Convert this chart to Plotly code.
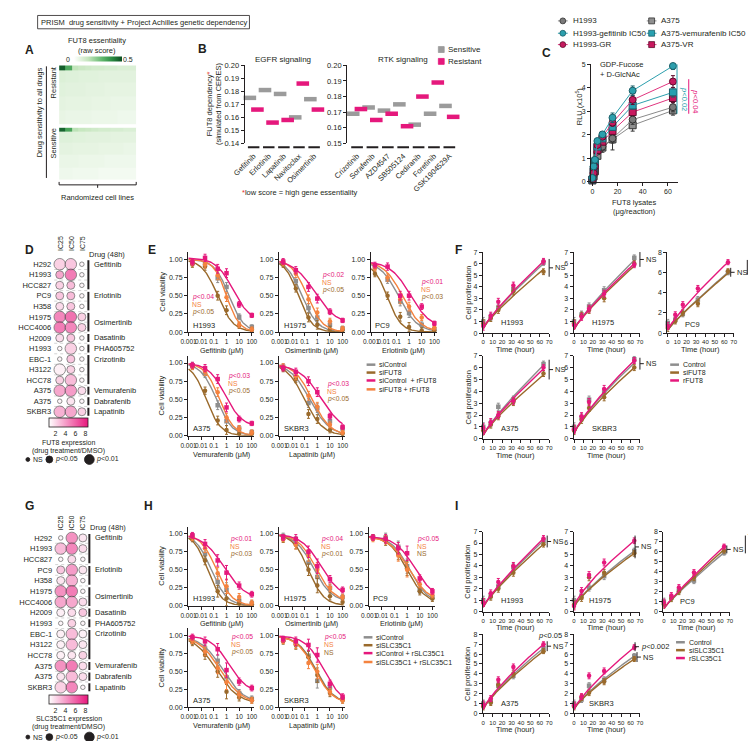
import numpy as np
import plotly.graph_objects as go

W, H = 756, 741
FONT = "Liberation Sans, Arial, sans-serif"
INK = "#231f20"
GRAY, BROWN, PINK, ORANGE = "#8e8e8e", "#9a6a2c", "#e5187c", "#f4833f"
TEAL, CRIMSON, RED = "#2c9fad", "#c51a5e", "#e8312f"

# ---------------- A: FUT8 essentiality (rows x randomized cell lines) ----------------
heat_resistant = [
    [0.47, 0.33, 0.15, 0.13, 0.12, 0.11, 0.11, 0.10, 0.10, 0.09, 0.09, 0.09],
    [0.085, 0.08, 0.08, 0.075, 0.075, 0.075, 0.07, 0.07, 0.07, 0.07, 0.07, 0.07],
    [0.075, 0.07, 0.07, 0.07, 0.065, 0.065, 0.065, 0.06, 0.06, 0.06, 0.06, 0.06],
    [0.065, 0.06, 0.06, 0.06, 0.06, 0.055, 0.055, 0.055, 0.05, 0.05, 0.05, 0.05],
    [0.055, 0.05, 0.05, 0.05, 0.05, 0.045, 0.045, 0.045, 0.045, 0.04, 0.04, 0.04],
]
heat_sensitive = [
    [0.46, 0.34, 0.16, 0.14, 0.13, 0.12, 0.11, 0.11, 0.10, 0.10, 0.09, 0.09],
    [0.08, 0.08, 0.075, 0.075, 0.07, 0.07, 0.07, 0.07, 0.065, 0.065, 0.065, 0.065],
    [0.065, 0.065, 0.06, 0.06, 0.06, 0.06, 0.055, 0.055, 0.055, 0.055, 0.05, 0.05],
    [0.05, 0.05, 0.05, 0.045, 0.045, 0.045, 0.045, 0.04, 0.04, 0.04, 0.04, 0.04],
    [0.04, 0.04, 0.035, 0.035, 0.035, 0.035, 0.03, 0.03, 0.03, 0.03, 0.03, 0.03],
]

# ---------------- B: FUT8 dependency ----------------
egfr_drugs = ["Gefitinib", "Erlotinib", "Lapatinib", "Navitoclax", "Osimertinib"]
egfr_sensitive = [0.175, 0.181, 0.178, 0.160, 0.174]
egfr_resistant = [0.166, 0.156, 0.158, 0.186, 0.166]
rtk_drugs = ["Crizotinib", "Sorafenib", "AZD4547", "SB505124", "Cediranib", "Foretinib", "GSK1904529A"]
rtk_sensitive = [0.169, 0.173, 0.171, 0.175, 0.162, 0.169, 0.174]
rtk_resistant = [0.172, 0.165, 0.169, 0.161, 0.180, 0.189, 0.167]

# ---------------- C: FUT8 activity ----------------
c_lysate = [0, 1, 2, 4, 8, 16, 32, 64]
c_names = ["H1993", "H1993-gefitinib IC50", "H1993-GR", "A375", "A375-vemurafenib IC50", "A375-VR"]
c_rlu = [
    [0.07, 0.28, 0.52, 1.29, 1.50, 1.85, 2.65, 3.18],
    [0.17, 0.66, 0.94, 1.74, 2.02, 2.73, 3.88, 4.93],
    [0.10, 0.38, 0.66, 1.57, 1.92, 2.52, 3.49, 4.27],
    [0.06, 0.24, 0.45, 1.11, 1.46, 1.81, 2.41, 3.04],
    [0.10, 0.52, 0.87, 1.50, 1.85, 2.34, 3.25, 3.81],
    [0.10, 0.45, 0.76, 1.36, 1.71, 2.17, 2.97, 3.57],
]
c_sd = [
    [0.03, 0.05, 0.08, 0.10, 0.15, 0.20, 0.20, 0.20],
    [0.03, 0.05, 0.08, 0.10, 0.10, 0.20, 0.20, 0.15],
    [0.03, 0.05, 0.08, 0.10, 0.10, 0.15, 0.20, 0.25],
    [0.03, 0.05, 0.08, 0.10, 0.20, 0.45, 0.25, 0.20],
    [0.03, 0.05, 0.08, 0.10, 0.10, 0.15, 0.15, 0.20],
    [0.03, 0.05, 0.08, 0.10, 0.10, 0.15, 0.15, 0.20],
]

# ---------------- D / G: expression bubbles ----------------
bubble_lines = ["H292", "H1993", "HCC827", "PC9", "H358", "H1975", "HCC4006", "H2009",
                "H1993", "EBC-1", "H3122", "HCC78", "A375", "A375", "SKBR3"]
bubble_drugs = ["Gefitinib", "Erlotinib", "Osimertinib", "Dasatinib", "PHA605752",
                "Crizotinib", "Vemurafenib", "Dabrafenib", "Lapatinib"]
bubble_drug_rows = [(0, 2), (3, 4), (5, 6), (7, 7), (8, 8), (9, 11), (12, 12), (13, 13), (14, 14)]
# columns IC25, IC50, IC75 ; significance 0 = NS, 1 = p<0.05, 2 = p<0.01
fut8_fold = [[3.0, 3.5, 1.2], [5.0, 7.0, 1.2], [3.0, 4.0, 1.2], [3.5, 4.0, 1.2], [2.5, 3.5, 1.2],
             [6.5, 7.5, 3.0], [7.0, 6.5, 3.0], [2.5, 3.5, 1.2], [1.2, 3.0, 1.2], [1.2, 3.5, 1.2],
             [1.5, 3.0, 1.2], [3.0, 4.0, 1.2], [5.0, 5.5, 2.5], [1.2, 2.0, 1.2], [4.5, 5.0, 3.0]]
fut8_sig = [[2, 2, 0], [1, 2, 0], [1, 1, 0], [1, 1, 0], [1, 1, 0], [2, 2, 1], [2, 2, 1], [1, 1, 0],
            [0, 2, 0], [0, 1, 0], [2, 1, 0], [1, 2, 0], [2, 2, 1], [0, 1, 0], [2, 2, 1]]
slc_fold = [[1.2, 6.0, 2.0], [4.0, 6.5, 2.5], [1.2, 2.5, 1.2], [3.5, 5.5, 2.0], [2.0, 4.5, 1.2],
            [6.0, 7.0, 1.2], [5.0, 5.0, 2.5], [1.5, 2.5, 3.5], [1.2, 3.0, 1.2], [1.5, 4.0, 1.5],
            [1.5, 4.0, 2.0], [1.5, 2.0, 3.0], [6.0, 7.0, 2.5], [2.0, 4.0, 2.5], [3.0, 6.5, 1.2]]
slc_sig = [[0, 2, 1], [2, 2, 1], [0, 1, 0], [1, 2, 1], [1, 2, 0], [2, 2, 0], [2, 2, 1], [1, 1, 1],
           [0, 1, 0], [1, 2, 1], [1, 2, 1], [1, 1, 1], [2, 2, 1], [1, 2, 1], [2, 2, 0]]

# ---------------- E / H: viability (siControl, siX, siControl + rX, siX + rX) ----------------
dose_um = [0.002, 0.02, 0.2, 1, 10, 100]
# fit = [top, bottom, logIC50, hill]
e_h1993 = [[0.96, 0.94, 0.74, 0.62, 0.21, 0.07], [0.93, 0.90, 0.50, 0.30, 0.09, 0.03],
           [0.96, 1.02, 0.87, 0.81, 0.38, 0.23], [0.95, 0.93, 0.78, 0.48, 0.10, 0.04]]
e_h1993_fit = [[1.0, 0.0, 0.2, 0.75], [1.0, 0.0, -0.7, 0.7], [1.02, 0.15, 0.5, 0.65], [1.0, 0.0, 0.0, 0.85]]
e_h1975 = [[0.95, 0.70, 0.33, 0.20, 0.10, 0.05], [0.93, 0.60, 0.20, 0.10, 0.04, 0.03],
           [0.97, 0.85, 0.62, 0.46, 0.28, 0.16], [0.95, 0.80, 0.45, 0.27, 0.15, 0.05]]
e_h1975_fit = [[1.0, 0.0, -1.2, 0.7], [1.0, 0.0, -1.5, 0.8], [1.0, 0.1, -0.2, 0.5], [1.0, 0.0, -0.8, 0.7]]
e_pc9 = [[0.90, 0.72, 0.42, 0.26, 0.10, 0.04], [0.80, 0.50, 0.21, 0.07, 0.02, 0.02],
         [0.92, 0.90, 0.50, 0.50, 0.35, 0.12], [0.88, 0.75, 0.45, 0.35, 0.20, 0.06]]
e_pc9_fit = [[0.97, 0.0, -0.8, 0.6], [0.95, 0.0, -1.7, 0.8], [0.97, 0.05, 0.1, 0.55], [0.97, 0.0, -0.5, 0.6]]
e_a375 = [[0.97, 0.85, 0.42, 0.20, 0.10, 0.05], [0.95, 0.62, 0.21, 0.08, 0.03, 0.03],
          [0.97, 0.93, 0.78, 0.39, 0.23, 0.17], [0.95, 0.88, 0.60, 0.25, 0.10, 0.05]]
e_a375_fit = [[1.0, 0.0, -0.8, 0.7], [1.0, 0.0, -1.6, 0.75], [1.0, 0.12, -0.1, 0.65], [1.0, 0.0, -0.55, 0.75]]
e_skbr3 = [[0.95, 0.80, 0.45, 0.38, 0.20, 0.10], [0.92, 0.78, 0.30, 0.23, 0.08, 0.03],
           [0.93, 0.88, 0.75, 0.60, 0.27, 0.12], [0.95, 0.82, 0.55, 0.40, 0.15, 0.05]]
e_skbr3_fit = [[1.0, 0.0, -0.6, 0.55], [1.0, 0.0, -1.0, 0.6], [0.98, 0.05, 0.3, 0.5], [1.0, 0.0, -0.4, 0.6]]
e_sd = [0.04, 0.05, 0.06, 0.06, 0.04, 0.03]

h_h1993 = [[0.97, 0.72, 0.33, 0.22, 0.07, 0.03], [0.93, 0.63, 0.20, 0.10, 0.03, 0.02],
           [0.98, 0.86, 0.63, 0.46, 0.28, 0.16], [0.95, 0.80, 0.45, 0.27, 0.12, 0.04]]
h_h1993_fit = [[1.0, 0.0, -1.2, 0.7], [1.0, 0.0, -1.5, 0.8], [1.0, 0.08, -0.2, 0.5], [1.0, 0.0, -0.8, 0.7]]
h_h1975 = [[0.97, 0.90, 0.60, 0.40, 0.25, 0.12], [0.92, 0.85, 0.50, 0.28, 0.13, 0.05],
           [0.95, 0.93, 0.75, 0.55, 0.37, 0.22], [0.93, 0.85, 0.70, 0.50, 0.25, 0.12]]
h_h1975_fit = [[1.0, 0.05, -0.3, 0.6], [1.0, 0.0, -0.7, 0.7], [1.0, 0.1, 0.3, 0.55], [1.0, 0.05, -0.1, 0.6]]
h_pc9 = [[0.95, 0.95, 0.82, 0.55, 0.22, 0.12], [0.95, 0.90, 0.72, 0.52, 0.20, 0.10],
         [0.95, 0.93, 0.80, 0.73, 0.38, 0.20], [0.93, 0.92, 0.70, 0.50, 0.30, 0.15]]
h_pc9_fit = [[0.97, 0.03, 0.2, 0.6], [0.97, 0.03, 0.0, 0.6], [0.97, 0.08, 0.6, 0.55], [0.97, 0.05, 0.15, 0.55]]
h_a375 = [[0.95, 0.82, 0.65, 0.42, 0.20, 0.12], [0.90, 0.73, 0.50, 0.22, 0.14, 0.10],
          [0.98, 0.92, 0.81, 0.52, 0.36, 0.27], [0.93, 0.78, 0.55, 0.35, 0.18, 0.10]]
h_a375_fit = [[1.0, 0.05, -0.3, 0.5], [1.0, 0.05, -0.8, 0.5], [1.0, 0.2, 0.2, 0.6], [1.0, 0.05, -0.5, 0.5]]
h_skbr3 = [[0.95, 0.90, 0.72, 0.37, 0.28, 0.12], [0.92, 0.87, 0.70, 0.45, 0.20, 0.10],
           [0.95, 0.92, 0.87, 0.73, 0.33, 0.15], [0.93, 0.88, 0.62, 0.50, 0.22, 0.10]]
h_skbr3_fit = [[1.0, 0.05, -0.1, 0.6], [1.0, 0.05, -0.15, 0.6], [1.0, 0.05, 0.5, 0.6], [1.0, 0.05, -0.2, 0.6]]
h_sd = [0.04, 0.06, 0.08, 0.10, 0.05, 0.04]

# ---------------- F / I: proliferation (Control, siX, rX) ----------------
time_h = [0, 8, 16, 32, 64]
# fit = [start, value at 64 h, curvature]
f_h1993 = [[1.0, 1.4, 2.2, 3.8, 6.1], [0.8, 1.3, 2.0, 3.6, 5.3], [0.6, 1.5, 2.7, 4.1, 6.2]]
f_h1993_fit = [[0.4, 6.0, 0.85], [0.4, 5.5, 0.85], [0.4, 6.2, 0.85]]
f_h1975 = [[1.0, 1.6, 2.3, 3.7, 6.5], [0.8, 1.5, 2.0, 3.0, 6.0], [0.7, 1.4, 2.1, 3.4, 5.9]]
f_h1975_fit = [[0.3, 6.3, 0.85], [0.3, 5.8, 0.85], [0.3, 6.0, 0.85]]
f_pc9 = [[1.0, 1.3, 1.9, 3.3, 6.0], [0.5, 1.2, 2.0, 2.9, 6.1], [0.7, 1.8, 2.8, 4.4, 7.0]]
f_pc9_fit = [[0.3, 6.0, 0.9], [0.3, 5.9, 0.9], [0.3, 7.0, 0.85]]
f_a375 = [[1.0, 1.3, 2.7, 3.3, 6.3], [0.7, 1.2, 1.9, 3.1, 5.5], [0.9, 1.4, 2.0, 3.2, 6.0]]
f_a375_fit = [[0.3, 6.2, 0.85], [0.3, 5.4, 0.85], [0.3, 5.9, 0.85]]
f_skbr3 = [[1.0, 1.8, 3.3, 3.9, 6.7], [0.7, 1.6, 2.6, 3.5, 6.0], [0.8, 1.9, 3.1, 4.2, 6.6]]
f_skbr3_fit = [[0.4, 6.4, 0.8], [0.4, 6.0, 0.8], [0.4, 6.6, 0.8]]

i_h1993 = [[1.0, 1.4, 2.2, 3.9, 6.2], [0.8, 1.3, 2.0, 3.4, 5.9], [0.8, 1.6, 2.6, 4.0, 6.4]]
i_h1993_fit = [[0.4, 6.2, 0.85], [0.4, 5.9, 0.85], [0.4, 6.4, 0.85]]
i_h1975 = [[1.0, 1.4, 2.1, 3.1, 5.3], [0.6, 1.2, 3.0, 3.4, 5.1], [0.5, 1.8, 3.2, 4.3, 6.2]]
i_h1975_fit = [[0.4, 5.3, 0.8], [0.4, 5.1, 0.8], [0.4, 6.2, 0.75]]
i_pc9 = [[1.0, 1.4, 2.1, 3.1, 5.9], [0.7, 1.3, 2.0, 3.4, 6.1], [0.9, 1.6, 2.4, 3.9, 6.5]]
i_pc9_fit = [[0.3, 5.9, 0.9], [0.3, 6.2, 0.9], [0.3, 6.5, 0.9]]
i_a375 = [[1.0, 1.2, 2.8, 3.8, 6.6], [0.7, 1.1, 2.9, 4.0, 6.3], [0.9, 1.5, 3.4, 4.7, 7.0]]
i_a375_fit = [[0.4, 6.6, 0.8], [0.4, 6.3, 0.8], [0.4, 7.0, 0.8]]
i_skbr3 = [[1.0, 1.4, 2.8, 3.4, 5.8], [0.7, 1.6, 2.1, 3.2, 5.5], [0.8, 1.7, 3.8, 4.3, 6.7]]
i_skbr3_fit = [[0.4, 5.8, 0.8], [0.4, 5.5, 0.8], [0.4, 6.7, 0.8]]
prolif_sd = [0.35, 0.3, 0.3, 0.3, 0.25]

# ---------------- helpers ----------------
fig = go.Figure()
axes, annos, shapes = {}, [], []
AXIS = dict(showgrid=False, zeroline=False, showline=True, linecolor=INK, linewidth=1,
            ticks="outside", ticklen=3, tickwidth=1, tickcolor=INK, tickangle=0,
            tickfont=dict(family=FONT, size=7, color=INK), fixedrange=True)
HIDE = dict(showline=False, ticks="", showticklabels=False)


def new_axes(x0, x1, y0, y1, xopt=None, yopt=None):
    n = len(axes) // 2 + 1
    s = "" if n == 1 else str(n)
    axes["xaxis" + s] = {**AXIS, "domain": [x0 / W, x1 / W], "anchor": "y" + s, **(xopt or {})}
    axes["yaxis" + s] = {**AXIS, "domain": [1 - y1 / H, 1 - y0 / H], "anchor": "x" + s, **(yopt or {})}
    return "x" + s, "y" + s


def label(x, y, s, size=7.5, color=INK, angle=0, xanchor="left", yanchor="middle"):
    annos.append(dict(x=x / W, y=1 - y / H, xref="paper", yref="paper", text=s, showarrow=False,
                      textangle=angle, xanchor=xanchor, yanchor=yanchor, borderpad=0,
                      font=dict(family=FONT, size=size, color=color)))


def seg(x0, y0, x1, y1, color=INK, width=1, dash="solid"):
    shapes.append(dict(type="line", xref="paper", yref="paper", x0=x0 / W, y0=1 - y0 / H,
                       x1=x1 / W, y1=1 - y1 / H, line=dict(color=color, width=width, dash=dash)))


def blob(cx, cy, d, fill, edge=INK, kind="circle"):
    shapes.append(dict(type=kind, xref="paper", yref="paper", x0=(cx - d / 2) / W, x1=(cx + d / 2) / W,
                       y0=1 - (cy + d / 2) / H, y1=1 - (cy - d / 2) / H, fillcolor=fill,
                       line=dict(color=edge, width=0.8)))


def letter(x, y, s):
    label(x, y, "<b>%s</b>" % s, size=12, xanchor="center")


def line_legend(x, ys, names, colors, size=7):
    for yy, nm, col in zip(ys, names, colors):
        seg(x, yy, x + 9, yy, col, 2.5)
        label(x + 12, yy, nm, size=size)


def bracket(x, y0, y1, text=None, tick=True):
    seg(x, y0, x, y1)
    if tick:
        seg(x, (y0 + y1) / 2, x + 4, (y0 + y1) / 2)
    if text:
        label(x + 5, (y0 + y1) / 2, text, size=7.5)


# ---------------- title ----------------
shapes.append(dict(type="rect", xref="paper", yref="paper", x0=16 / W, x1=233 / W, y0=1 - 17 / H,
                   y1=1 - 3.5 / H, line=dict(color=INK, width=0.8)))
label(124.5, 10.5, "PRISM  drug sensitivity + Project Achilles genetic dependency", size=7.5, xanchor="center")

# ---------------- A ----------------
GREENS = [[0, "#ffffff"], [0.12, "#e6f4e2"], [0.3, "#c3e5bc"], [0.6, "#5db56a"], [0.8, "#2a8a42"], [1, "#0b4d22"]]
row_edges = [0, 1.6, 6, 11, 16, 21]
for z, (y0, y1), scale in ((heat_resistant, (54, 114), True), (heat_sensitive, (117, 170), False)):
    xa, ya = new_axes(38, 117, y0, y1, dict(range=[-0.5, 11.5], **HIDE), dict(range=[21, 0], **HIDE))
    fig.add_trace(go.Heatmap(z=z, y=row_edges, xaxis=xa, yaxis=ya, colorscale=GREENS, zmin=0, zmax=0.5,
                             showscale=scale, hoverinfo="skip",
                             colorbar=dict(orientation="h", x=77.5 / W, xanchor="center", y=1 - 48 / H,
                                           yanchor="middle", len=49 / W, thickness=5, outlinewidth=0,
                                           showticklabels=False, ticks="", xpad=0, ypad=0)))
letter(8, 38, "A")
label(77, 29, "FUT8 essentiality", xanchor="center")
label(77, 38.5, "(raw score)", xanchor="center")
label(47, 48, "0", size=7, xanchor="center")
label(109, 48, "0.5", size=7, xanchor="center")
label(18, 102, "Drug sensitivity to all drugs", angle=-90, xanchor="center")
label(32, 71, "Resistant", angle=-90, xanchor="center")
label(32, 133, "Sensitive", angle=-90, xanchor="center")
seg(25, 55, 25, 168)
seg(38, 175, 117, 175)
seg(38, 172, 38, 175)
seg(117, 172, 117, 175)
seg(77.5, 175, 77.5, 178)
label(77, 188, "Randomized cell lines", xanchor="center")

# ---------------- B ----------------
def b_panel(x0, x1, drugs, sens, res, ylo, xr, title, tx):
    pos = np.arange(len(drugs))
    xa, ya = new_axes(x0, x1, 54, 133,
                      dict(range=xr, tickvals=list(pos), ticktext=drugs, tickangle=-45, showline=False,
                           ticks="", ticklabelstandoff=6, tickfont=dict(family=FONT, size=7.5, color=INK)),
                      dict(range=[ylo, 0.2], dtick=0.01, tick0=ylo, tickformat=".2f",
                           tickfont=dict(family=FONT, size=7.5, color=INK)))
    for vals, off, col in ((sens, -0.25, "#9b9b9b"), (res, 0.25, PINK)):
        fig.add_trace(go.Scatter(x=pos + off, y=vals, mode="markers", xaxis=xa, yaxis=ya,
                                 marker=dict(symbol="line-ew", size=9, line=dict(width=4.5, color=col)),
                                 showlegend=False, hoverinfo="skip", cliponaxis=False))
    for p in pos:
        shapes.append(dict(type="line", xref=xa, yref="paper", x0=p - 0.38, x1=p + 0.38,
                           y0=1 - 137 / H, y1=1 - 137 / H, line=dict(color=INK, width=2)))
    label(tx, 48, title, size=8, xanchor="center")


b_panel(228, 307, egfr_drugs, egfr_sensitive, egfr_resistant, 0.14, [-0.6, 4.5], "EGFR signaling", 267)
b_panel(333, 448, rtk_drugs, rtk_sensitive, rtk_resistant, 0.15, [-0.65, 6.65], "RTK signaling", 390)
letter(185, 37, "B")
label(192, 93, "FUT8 dependency<span style='color:%s'>*</span>" % RED, angle=-90, xanchor="center")
label(202, 93, "(simulated from CERES)", angle=-90, xanchor="center")
label(224, 183, "<span style='color:%s'>*</span>low score = high gene essentiality" % RED)
blob(429.5, 38, 6, "#9b9b9b", "#9b9b9b", "rect")
blob(429.5, 50, 6, PINK, PINK, "rect")
label(435, 38, "Sensitive", size=8)
label(435, 50, "Resistant", size=8)

# ---------------- C ----------------
c_fill = ["#7a7a7a", TEAL, CRIMSON, "#8f8f8f", "#27a0b0", "#c8185e"]
c_edge = ["#333333", "#1b5f68", "#5e0b2c", "#333333", "#1b5f68", "#5e0b2c"]
c_line = ["#8a8a8a", TEAL, "#e0357f", "#8a8a8a", TEAL, "#e0357f"]
c_symbol = ["circle", "circle", "circle", "square", "square", "square"]
xa, ya = new_axes(583, 672, 53, 172, dict(range=[-1, 68], tickvals=[0, 20, 40, 60]),
                  dict(range=[0, 5], dtick=1))
for k in (3, 0, 5, 4, 2, 1):
    fig.add_trace(go.Scatter(x=c_lysate, y=c_rlu[k], mode="lines+markers", xaxis=xa, yaxis=ya,
                             line=dict(color=c_line[k], width=1),
                             marker=dict(symbol=c_symbol[k], size=7, color=c_fill[k],
                                         line=dict(color=c_edge[k], width=1)),
                             error_y=dict(type="data", array=c_sd[k], color=c_edge[k], thickness=1, width=2),
                             showlegend=False, hoverinfo="skip", cliponaxis=False))
letter(537, 42, "C")
for k, (cx, cy) in enumerate([(554, 9), (554, 21.5), (554, 33), (645, 9), (645, 21.5), (645, 33)]):
    seg(cx - 5, cy, cx + 5, cy, c_line[k], 1)
    blob(cx, cy, 6, c_fill[k], c_edge[k], "circle" if c_symbol[k] == "circle" else "rect")
    label(cx + 9, cy, c_names[k], size=8)
label(591, 53, "GDP-Fucose", size=7.5)
label(591, 63, "+ D-GlcNAc", size=7.5)
label(570, 95, "RLU (x10<sup>5</sup>)", angle=-90, xanchor="center")
label(627, 193, "FUT8 lysates", xanchor="center")
label(627, 202, "(μg/reaction)", xanchor="center")
seg(671, 53, 671, 103, TEAL)
label(678, 88, "<i>p</i><0.02", color=TEAL, angle=90, xanchor="center")
seg(683, 68, 683, 103, PINK)
label(690, 90, "<i>p</i><0.04", color=PINK, angle=90, xanchor="center")

# ---------------- D / G ----------------
PINKS = [[0, "#ffffff"], [1, "#e8177d"]]
SIG_SIZE = [4.5, 8, 11.5]


def bubble_panel(x0, x1, y0, y1, fold, sig, cb_y, head_y, drug_y, title, legend_y):
    rows = len(bubble_lines)
    xa, ya = new_axes(x0, x1, y0, y1, dict(range=[-0.5, 2.5], **HIDE),
                      dict(range=[rows - 0.5, -0.5], tickvals=list(range(rows)), ticktext=bubble_lines,
                           showline=False, ticks="", ticklabelstandoff=2,
                           tickfont=dict(family=FONT, size=7.5, color=INK)))
    xs, ys, cs, ss = [], [], [], []
    for r, (fr, sr) in enumerate(zip(fold, sig)):
        for c in range(3):
            xs.append(c)
            ys.append(r)
            cs.append(fr[c])
            ss.append(SIG_SIZE[sr[c]])
    for r in range(rows - 1):
        shapes.append(dict(type="line", xref="paper", yref=ya, x0=x0 / W, x1=x1 / W, y0=r + 0.5, y1=r + 0.5,
                           line=dict(color="#b5b5b5", width=0.6, dash="dot"), layer="below"))
    fig.add_trace(go.Scatter(x=xs, y=ys, mode="markers", xaxis=xa, yaxis=ya, hoverinfo="skip",
                             showlegend=False, cliponaxis=False,
                             marker=dict(size=ss, color=cs, colorscale=PINKS, cmin=0.8, cmax=8.6,
                                         line=dict(color="#3a3a3a", width=0.8), showscale=True,
                                         colorbar=dict(orientation="h", x=48 / W, xanchor="center",
                                                       y=1 - (cb_y - 2) / H, yanchor="top", len=40 / W,
                                                       thickness=9, tickvals=[2, 4, 6, 8], ticks="",
                                                       tickfont=dict(family=FONT, size=7, color=INK),
                                                       outlinewidth=0.8, outlinecolor=INK,
                                                       xpad=0, ypad=0))))
    cols = [x0 + (x1 - x0) * (c + 0.5) / 3 for c in range(3)]
    for cx, nm in zip(cols, ["IC25", "IC50", "IC75"]):
        label(cx, head_y, nm, size=7, angle=-90, xanchor="center")
    label(x1 + 1, drug_y, "Drug (48h)", size=7.5)
    label_rows = [0, 3, 5.5, 7, 8, 9, 12, 13, 14]
    for nm, (a, b), lr in zip(bubble_drugs, bubble_drug_rows, label_rows):
        shapes.append(dict(type="line", xref="paper", yref=ya, x0=(x1 + 1) / W, x1=(x1 + 1) / W,
                           y0=a - 0.38, y1=b + 0.38, line=dict(color=INK, width=2)))
        annos.append(dict(x=(x1 + 5) / W, y=lr, xref="paper", yref=ya, text=nm, showarrow=False,
                          xanchor="left", yanchor="middle", font=dict(family=FONT, size=7.5, color=INK)))
    label(48, cb_y + 23, title, size=7, xanchor="center")
    label(48, cb_y + 31, "(drug treatment/DMSO)", size=7, xanchor="center")
    blob(6, legend_y, 4, INK)
    label(10, legend_y, "NS", size=7)
    blob(28, legend_y, 7, INK)
    label(33, legend_y, "<i>p</i><0.05", size=7)
    blob(69, legend_y, 10, INK)
    label(75, legend_y, "<i>p</i><0.01", size=7)


bubble_panel(33, 67, 250, 410, fut8_fold, fut8_sig, 413, 234, 245, "FUT8 expression", 453)
letter(8, 241, "D")
bubble_panel(34, 68, 527, 689, slc_fold, slc_sig, 693, 517, 522, "SLC35C1 expression", 734)
letter(8, 500, "G")

# ---------------- E / H ----------------
VIAB_COLORS = [GRAY, BROWN, PINK, ORANGE]
VIAB_SYMBOL = ["square", "circle", "square", "circle"]
curve_dose = np.logspace(-3, 2, 120)


def dose_panel(left, top, bottom, means, fits, sd, cell, drug, pvals, pv_x, pv_y, ytitle):
    xa, ya = new_axes(left, left + 68, top, bottom,
                      dict(type="log", range=[-3.05, 2.2], tickvals=[0.001, 0.01, 0.1, 1, 10, 100],
                           ticktext=["0.001", "0.01", "0.1", "1", "10", "100"],
                           tickfont=dict(family=FONT, size=6.5, color=INK)),
                      dict(range=[0, 1.1], tickvals=[0, 0.25, 0.5, 0.75, 1.0],
                           ticktext=["0.00", "0.25", "0.50", "0.75", "1.00"]))
    for k in (0, 1, 3, 2):
        t, b, lic, hill = fits[k]
        curve = b + (t - b) / (1 + 10 ** ((np.log10(curve_dose) - lic) * hill))
        fig.add_trace(go.Scatter(x=curve_dose, y=curve, mode="lines", xaxis=xa, yaxis=ya,
                                 line=dict(color=VIAB_COLORS[k], width=1.4), showlegend=False,
                                 hoverinfo="skip"))
        fig.add_trace(go.Scatter(x=dose_um, y=means[k], mode="markers", xaxis=xa, yaxis=ya,
                                 marker=dict(symbol=VIAB_SYMBOL[k], size=4.5, color=VIAB_COLORS[k]),
                                 error_y=dict(type="data", array=sd, color=VIAB_COLORS[k], thickness=1, width=1.5),
                                 showlegend=False, hoverinfo="skip", cliponaxis=False))
    label(left + 4, bottom - 7, cell, size=7.5)
    label(left + 34, bottom + 18.5, drug + " (μM)", size=7.2, xanchor="center")
    for j, (txt, col) in enumerate(zip(pvals, (PINK, ORANGE, BROWN))):
        label(pv_x, pv_y + 7.6 * j, txt, size=6.8, color=col)
    if ytitle:
        label(143, (top + bottom) / 2, "Cell viability", angle=-90, xanchor="center")


P = "<i>p</i>"
dose_panel(170, 243, 324, e_h1993, e_h1993_fit, e_sd, "H1993", "Gefitinib", [P + "<0.04", "NS", P + "<0.05"], 173, 288, True)
dose_panel(263, 243, 324, e_h1975, e_h1975_fit, e_sd, "H1975", "Osimertinib", [P + "<0.02", "NS", P + "<0.05"], 306, 266, False)
dose_panel(357, 243, 324, e_pc9, e_pc9_fit, e_sd, "PC9", "Erlotinib", [P + "<0.01", "NS", P + "<0.03"], 408, 273, False)
dose_panel(170, 348, 429, e_a375, e_a375_fit, e_sd, "A375", "Vemurafenib", [P + "<0.03", "NS", P + "<0.05"], 210, 368, True)
dose_panel(263, 348, 429, e_skbr3, e_skbr3_fit, e_sd, "SKBR3", "Lapatinib", [P + "<0.03", "NS", P + "<0.05"], 311, 377, False)
letter(133, 241, "E")
line_legend(353, [357, 365, 373, 382], ["siControl", "siFUT8", "siControl  + rFUT8", "siFUT8 + rFUT8"], VIAB_COLORS)

dose_panel(170, 521, 601, h_h1993, h_h1993_fit, h_sd, "H1993", "Gefitinib", [P + "<0.01", "NS", P + "<0.03"], 212, 533, True)
dose_panel(263, 521, 601, h_h1975, h_h1975_fit, h_sd, "H1975", "Osimertinib", [P + "<0.04", "NS", P + "<0.01"], 305, 533, False)
dose_panel(355, 521, 601, h_pc9, h_pc9_fit, h_sd, "PC9", "Erlotinib", [P + "<0.05", "NS", "NS"], 404, 533, False)
dose_panel(170, 624, 704, h_a375, h_a375_fit, h_sd, "A375", "Vemurafenib", [P + "<0.05", "NS", P + "<0.05"], 213, 633, True)
dose_panel(263, 624, 704, h_skbr3, h_skbr3_fit, h_sd, "SKBR3", "Lapatinib", [P + "<0.05", "NS", "NS"], 308, 633, False)
letter(130, 500, "H")
line_legend(350, [633, 641, 649, 658], ["siControl", "siSLC35C1", "siControl + rSLC35C1", "siSLC35C1 + rSLC35C1"],
            VIAB_COLORS)

# ---------------- F / I ----------------
PRO_COLORS = [GRAY, BROWN, PINK]
PRO_SYMBOL = ["square", "circle", "circle"]
curve_time = np.linspace(0, 64, 80)


def prolif_panel(left, top, bottom, ymax, ydtick, means, fits, cell, cx, cy, ytitle):
    xa, ya = new_axes(left, left + 68, top, bottom,
                      dict(range=[-0.5, 70], tickvals=list(range(0, 71, 10)),
                           tickfont=dict(family=FONT, size=6, color=INK)),
                      dict(range=[0, ymax], dtick=ydtick, tick0=0))
    for k in range(3):
        start, end, p = fits[k]
        curve = start + (end - start) * (curve_time / 64) ** p
        fig.add_trace(go.Scatter(x=curve_time, y=curve, mode="lines", xaxis=xa, yaxis=ya,
                                 line=dict(color=PRO_COLORS[k], width=1.4), showlegend=False,
                                 hoverinfo="skip"))
        fig.add_trace(go.Scatter(x=time_h, y=means[k], mode="markers", xaxis=xa, yaxis=ya,
                                 marker=dict(symbol=PRO_SYMBOL[k], size=4.5, color=PRO_COLORS[k]),
                                 error_y=dict(type="data", array=prolif_sd, color=PRO_COLORS[k],
                                              thickness=1, width=1.5),
                                 showlegend=False, hoverinfo="skip", cliponaxis=False))
    label(cx, cy, cell, size=7.5)
    label(left + 34, bottom + 16.5, "Time (hour)", xanchor="center")
    if ytitle:
        label(457, (top + bottom) / 2, "Cell proliferation", angle=-90, xanchor="center")


prolif_panel(472, 243, 325, 7, 1, f_h1993, f_h1993_fit, "H1993", 490, 314, True)
prolif_panel(565, 243, 325, 7, 1, f_h1975, f_h1975_fit, "H1975", 583, 314, False)
prolif_panel(661, 243, 325, 8, 2, f_pc9, f_pc9_fit, "PC9", 678, 316, False)
prolif_panel(472, 348, 432, 7, 1, f_a375, f_a375_fit, "A375", 490, 422, True)
prolif_panel(565, 348, 432, 7, 1, f_skbr3, f_skbr3_fit, "SKBR3", 583, 422, False)
letter(447, 241, "F")
line_legend(664, [357, 365, 373], ["Control", "siFUT8", "rFUT8"], PRO_COLORS)
bracket(540, 250, 268, "NS")
bracket(633, 243, 258, "NS")
bracket(726, 259, 268, "NS")
bracket(743, 251, 266, tick=False)
label(748.5, 259, P + "<0.05", size=7, angle=90, xanchor="center")
bracket(540, 352, 372, "NS")
bracket(633, 350, 362, "NS")

prolif_panel(472, 526, 607, 7, 1, i_h1993, i_h1993_fit, "H1993", 490, 596, True)
prolif_panel(565, 526, 607, 7, 1, i_h1975, i_h1975_fit, "H1975", 580, 596, False)
prolif_panel(657, 526, 607, 8, 1, i_pc9, i_pc9_fit, "PC9", 673, 597, False)
prolif_panel(472, 630, 710, 8, 1, i_a375, i_a375_fit, "A375", 490, 700, True)
prolif_panel(565, 630, 710, 8, 1, i_skbr3, i_skbr3_fit, "SKBR3", 580, 700, False)
letter(445, 500, "I")
line_legend(670, [638, 646, 654], ["Control", "siSLC35C1", "rSLC35C1"], PRO_COLORS)
bracket(538, 530, 542, "NS")
bracket(628, 530, 553, "NS")
bracket(722, 540, 548, "NS")
bracket(741, 530, 548, tick=False)
label(747, 539, P + "<0.05", size=7, angle=90, xanchor="center")
label(528, 631, P + "<0.05", size=7.5)
bracket(538, 637, 647, "NS")
bracket(628, 638, 647, P + "<0.002")
bracket(630, 648, 658, "NS")

fig.update_layout(width=W, height=H, margin=dict(l=0, r=0, t=0, b=0), autosize=False,
                  paper_bgcolor="white", plot_bgcolor="rgba(0,0,0,0)", showlegend=False,
                  font=dict(family=FONT, size=7.5, color=INK), shapes=shapes, annotations=annos, **axes)
fig.write_html("out.html")
